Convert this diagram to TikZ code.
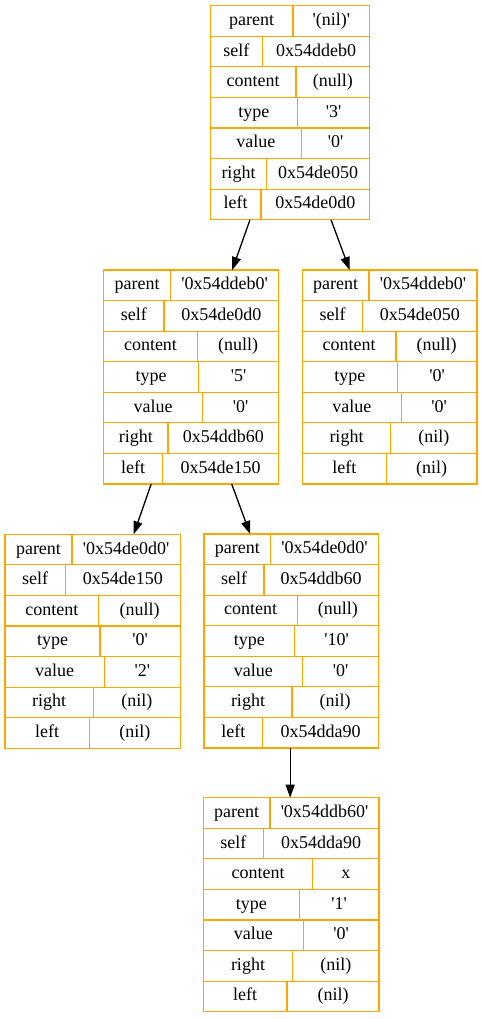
\documentclass[tikz,border=0pt]{standalone}
\usepackage{fontspec}
\setmainfont{Liberation Serif}[Ligatures=TeXOff]
\usetikzlibrary{arrows.meta,fit,calc}
\definecolor{gvorange}{HTML}{FFA500}
\tikzset{
  recline/.style={draw=gvorange, line width=1.2bp},
  recframe/.style={recline, inner sep=0pt, outer sep=0pt},
  cell/.style={inner sep=0pt, text height=13bp, text depth=4bp, font=\fontsize{18bp}{20bp}\selectfont, anchor=center},
  edge/.style={-{Triangle[length=13bp,width=9bp]}, line width=1.3bp, black},
}
\newcommand{\recbox}[5]{%
  \node[recframe, fit={(#2,#4) (#3,#4+214)}] (#1) {};
  \foreach \xdiv/\klab/\vlab [count=\i from 0] in {#5} {
    \pgfmathsetmacro\yt{#4+\i*214/7}
    \pgfmathsetmacro\yb{#4+(\i+1)*214/7}
    \pgfmathsetmacro\ym{#4+(\i+0.5)*214/7}
    \ifnum\i>0 \draw[recline] (#2,\yt) -- (#3,\yt); \fi
    \draw[recline] (\xdiv,\yt) -- (\xdiv,\yb);
    \node[cell] (#1-k\i) at ({(#2+\xdiv)/2},\ym) {\klab};
    \node[cell] (#1-v\i) at ({(\xdiv+#3)/2},\ym) {\vlab};
  }%
}
\begin{document}
\begin{tikzpicture}[x=1bp,y=-1bp]
\fill[white] (0,0) rectangle (483,1019);
\useasboundingbox (0,0) rectangle (483,1019);
\recbox{n1}{210.3}{369.7}{5.7}{293/parent/'(nil)', 262.3/self/0x54ddeb0, 296/content/(null), 297.3/type/'3', 301.3/value/'0', 266.7/right/0x54de050, 261/left/0x54de0d0}
\recbox{n2}{103.7}{278.7}{270}{170.7/parent/'0x54ddeb0', 164/self/0x54de0d0, 197.3/content/(null), 198.7/type/'5', 202.7/value/'0', 168/right/0x54ddb60, 162.7/left/0x54de150}
\recbox{n3}{302.3}{477}{270}{369/parent/'0x54ddeb0', 362.7/self/0x54de050, 396/content/(null), 397.3/type/'0', 401.3/value/'0', 390.7/right/(nil), 386.3/left/(nil)}
\recbox{n4}{5}{180.3}{534.3}{72/parent/'0x54de0d0', 65.3/self/0x54de150, 98.7/content/(null), 100/type/'0', 104.3/value/'2', 93.3/right/(nil), 89.3/left/(nil)}
\recbox{n5}{204}{378.3}{534}{270.7/parent/'0x54de0d0', 264/self/0x54ddb60, 297.3/content/(null), 294.7/type/'10', 302.7/value/'0', 292/right/(nil), 262.7/left/0x54dda90}
\recbox{n6}{203.3}{379}{797.7}{270/parent/'0x54ddb60', 263.3/self/0x54dda90, 312.7/content/x, 299.3/type/'1', 303.3/value/'0', 292.7/right/(nil), 287/left/(nil)}
\draw[edge] ($(n1.south)+(-40,0)$) -- ($(n2.north)+(41,0)$);
\draw[edge] ($(n1.south)+(41,0)$) -- ($(n3.north)+(-40,0)$);
\draw[edge] ($(n2.south)+(-40,0)$) -- ($(n4.north)+(41,0)$);
\draw[edge] ($(n2.south)+(40.5,0)$) -- ($(n5.north)+(-41,0)$);
\draw[edge] ($(n5.south)+(-1,0)$) -- ($(n6.north)+(-1,0)$);
\end{tikzpicture}
\end{document}
